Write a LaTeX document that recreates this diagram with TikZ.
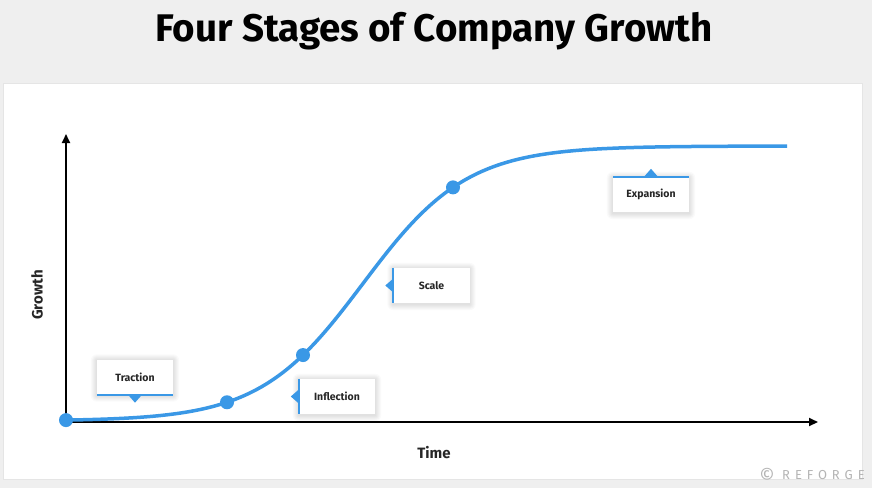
\documentclass[tikz,border=0pt]{standalone}
\usepackage{fontspec}
\setmainfont{Fira Sans}
\newfontfamily\titlefont{Fira Sans}
\usetikzlibrary{arrows.meta,calc}
\definecolor{bg}{HTML}{EFEFEF}
\definecolor{cblue}{HTML}{3A98E6}
\definecolor{wm}{HTML}{B4B4B4}
\pgfdeclarelayer{back}
\pgfdeclarelayer{shad}
\pgfsetlayers{back,shad,main}
\newcommand\softshadow[1]{%
  \begin{pgfonlayer}{shad}
  \foreach \r in {1,...,6}{
    \fill[black,opacity=0.018,rounded corners=\r pt]
      ($(#1.south west)+(-\r,\r+1)$) rectangle ($(#1.north east)+(\r,-\r+1)$);
  }
  \end{pgfonlayer}}
\begin{document}
\begin{tikzpicture}[x=1pt,y=-1pt,
  declare function={g(\t)=421-275/(1+exp(-(\t-363)/52));},
  axis/.style={line width=2pt,-{Triangle[length=9pt,width=8pt]}},
  dot/.style={circle,fill=cblue,inner sep=0pt,minimum size=14pt},
  lbl/.style={fill=white,minimum width=76pt,minimum height=35pt,inner sep=0pt,
    font=\bfseries\fontsize{10.5}{12}\selectfont,text=black!85},
  bar/.style={cblue,line width=2pt},
  axlabel/.style={font=\fontsize{15}{18}\selectfont\bfseries,text=black!85}]
\begin{pgfonlayer}{back}
\fill[bg] (0,0) rectangle (872,488);
\fill[black,opacity=0.04] (3,83) rectangle (863,480);
\fill[white] (4,84) rectangle (862,479);
\end{pgfonlayer}
\useasboundingbox (0,0) rectangle (872,488);
\node[font=\titlefont\bfseries\fontsize{38.5}{42}\selectfont] (title) at (434,31) {Four Stages of Company Growth};
% axes
\coordinate (O) at (66,422);
\coordinate (ytop) at (66,134);
\coordinate (xend) at (818,422);
\draw[axis] (O) -- (ytop);
\draw[axis] (O) -- (xend);
\node[axlabel,rotate=90] (growth) at (37,295) {Growth};
\node[axlabel] (time) at (434,453) {Time};
% curve
\draw[cblue,line width=3.5pt] plot[domain=66:787,samples=200,smooth] (\x,{g(\x)});
\node[dot] (d0) at (66,{g(66)}) {};
\node[dot] (d1) at (227,{g(227)}) {};
\node[dot] (d2) at (303,{g(303)}) {};
\node[dot] (d3) at (453,{g(453)}) {};
% labels
\node[lbl] (tr) at (135,377) {Traction};
\softshadow{tr}
\draw[bar] (tr.south west) -- (tr.south east);
\fill[cblue] ($(tr.south)+(-7,0)$) -- ($(tr.south)+(7,0)$) -- ($(tr.south)+(0,8)$) -- cycle;
\node[lbl] (inf) at (337,396.5) {Inflection};
\softshadow{inf}
\draw[bar] (inf.north west) -- (inf.south west);
\fill[cblue] ($(inf.west)+(0,-7)$) -- ($(inf.west)+(0,7)$) -- ($(inf.west)+(-8,0)$) -- cycle;
\node[lbl] (sc) at (431.5,285.5) {Scale};
\softshadow{sc}
\draw[bar] (sc.north west) -- (sc.south west);
\fill[cblue] ($(sc.west)+(0,-7)$) -- ($(sc.west)+(0,7)$) -- ($(sc.west)+(-8,0)$) -- cycle;
\node[lbl] (ex) at (651,194.5) {Expansion};
\softshadow{ex}
\draw[bar] (ex.north west) -- (ex.north east);
\fill[cblue] ($(ex.north)+(-7,0)$) -- ($(ex.north)+(7,0)$) -- ($(ex.north)+(0,-8)$) -- cycle;
% watermark
\node[text=wm,font=\fontsize{19}{20}\selectfont,inner sep=0pt] (copy) at (767,475) {©};
\node[anchor=west,text=wm,font=\fontsize{13}{16}\selectfont\addfontfeature{LetterSpace=38},inner sep=0pt] (wmk) at (782,475) {REFORGE};
\end{tikzpicture}
\end{document}
